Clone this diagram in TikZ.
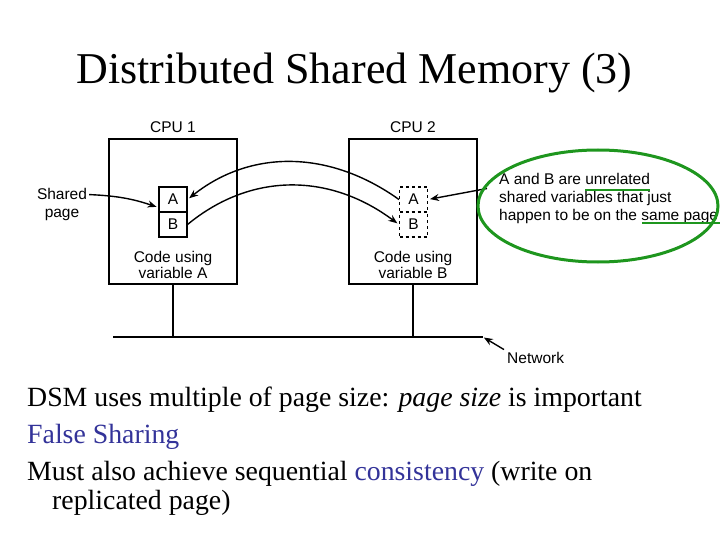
\documentclass[tikz,border=0pt]{standalone}
\usepackage{fontspec}
\setmainfont{Liberation Serif}
\newfontfamily\diagfont{Liberation Sans}
\usetikzlibrary{arrows.meta}

\definecolor{slideblue}{RGB}{51,51,153}
\definecolor{markgreen}{RGB}{30,150,30}

\begin{document}
\begin{tikzpicture}[x=1pt, y=-1pt,
    lbl/.style={font=\diagfont\fontsize{15.5}{16}\selectfont, inner sep=0pt},
    cpubox/.style={draw, line width=1.1pt, minimum width=128pt, minimum height=145pt, inner sep=0pt},
    cell/.style={draw, line width=1.1pt, minimum width=28pt, minimum height=25pt, inner sep=0pt,
        font=\diagfont\fontsize{15.5}{16}\selectfont},
    arr/.style={line width=1.4pt, -{Stealth[length=9pt, width=7pt]}},
    body/.style={font=\fontsize{27.8}{30}\selectfont, anchor=base west, inner sep=0pt}]
    \useasboundingbox (0,0) rectangle (720,540);

    % Title
    \node[font=\fontsize{44}{48}\selectfont, anchor=base, inner sep=0pt] (title) at (354.5,84)
        {Distributed Shared Memory (3)};

    % CPU boxes
    \node[cpubox] (cpu1) at (173,211.5) {};
    \node[cpubox] (cpu2) at (413,211.5) {};
    \node[lbl, anchor=base] (cpu1lbl) at (173,133) {CPU 1};
    \node[lbl, anchor=base] (cpu2lbl) at (413,133) {CPU 2};

    % Shared page in each CPU
    \node[cell] (cellA1) at (173,199.5) {A};
    \node[cell] (cellB1) at (173,224.5) {B};
    \node[cell, dashed] (cellA2) at (413.5,199.5) {A};
    \node[cell, dashed] (cellB2) at (413.5,224.5) {B};

    \node[lbl, align=center] (code1) at (173,265) {Code using\\variable A};
    \node[lbl, align=center] (code2) at (413,265) {Code using\\variable B};

    % Page moves between the CPUs
    \draw[arr, shorten >=2pt] (cellA2.west) .. controls +(-70,-50) and +(63,-50) .. (cellA1.east);
    \draw[arr, shorten >=2pt] (cellB1.east) .. controls +(63,-52) and +(-70,-52) .. (cellB2.west);

    % Shared page label
    \node[lbl, align=center, font=\diagfont\fontsize{15.5}{18}\selectfont] (shared) at (62,204) {Shared\\page};
    \draw[arr, shorten >=2pt] ([xshift=2pt, yshift=-7pt]shared.north east) to[bend left=8] ([yshift=-8pt]cellA1.west);

    % Network
    \coordinate (netL) at (113,337);
    \coordinate (netR) at (483,337);
    \draw[line width=1.1pt] (netL) -- (netR);
    \draw[line width=1.1pt] (cpu1.south) -- (cpu1.south |- netL);
    \draw[line width=1.1pt] (cpu2.south) -- (cpu2.south |- netL);
    \node[lbl, anchor=base west] (netlbl) at (507,363) {Network};
    \draw[arr, shorten >=1pt] ([xshift=-3pt, yshift=2pt]netlbl.north west) -- (netR);

    % Note on false sharing
    \node[lbl, align=left, anchor=north west, font=\diagfont\fontsize{15.5}{18}\selectfont] (note) at (499,173.5)
        {A and B are unrelated\\shared variables that just\\happen to be on the same page};
    \draw[arr, shorten >=2pt] ([xshift=-12pt, yshift=-15pt]note.north west) -- (cellA2.east);
    \draw[markgreen, line width=3pt] (598,206) ellipse [x radius=120pt, y radius=56pt];
    \draw[markgreen, line width=2.5pt] (585,190) -- (650,190);
    \draw[markgreen, line width=2.5pt] (642,223) -- (720,223);

    % Body text
    \node[body] (line1) at (27,406) {DSM uses multiple of page size: \textit{page size} is important};
    \node[body, text=slideblue] (line2) at (27,443) {False Sharing};
    \node[body] (line3) at (27,480) {Must also achieve sequential \textcolor{slideblue}{consistency} (write on};
    \node[body] (line4) at (52,509) {replicated page)};
\end{tikzpicture}
\end{document}
